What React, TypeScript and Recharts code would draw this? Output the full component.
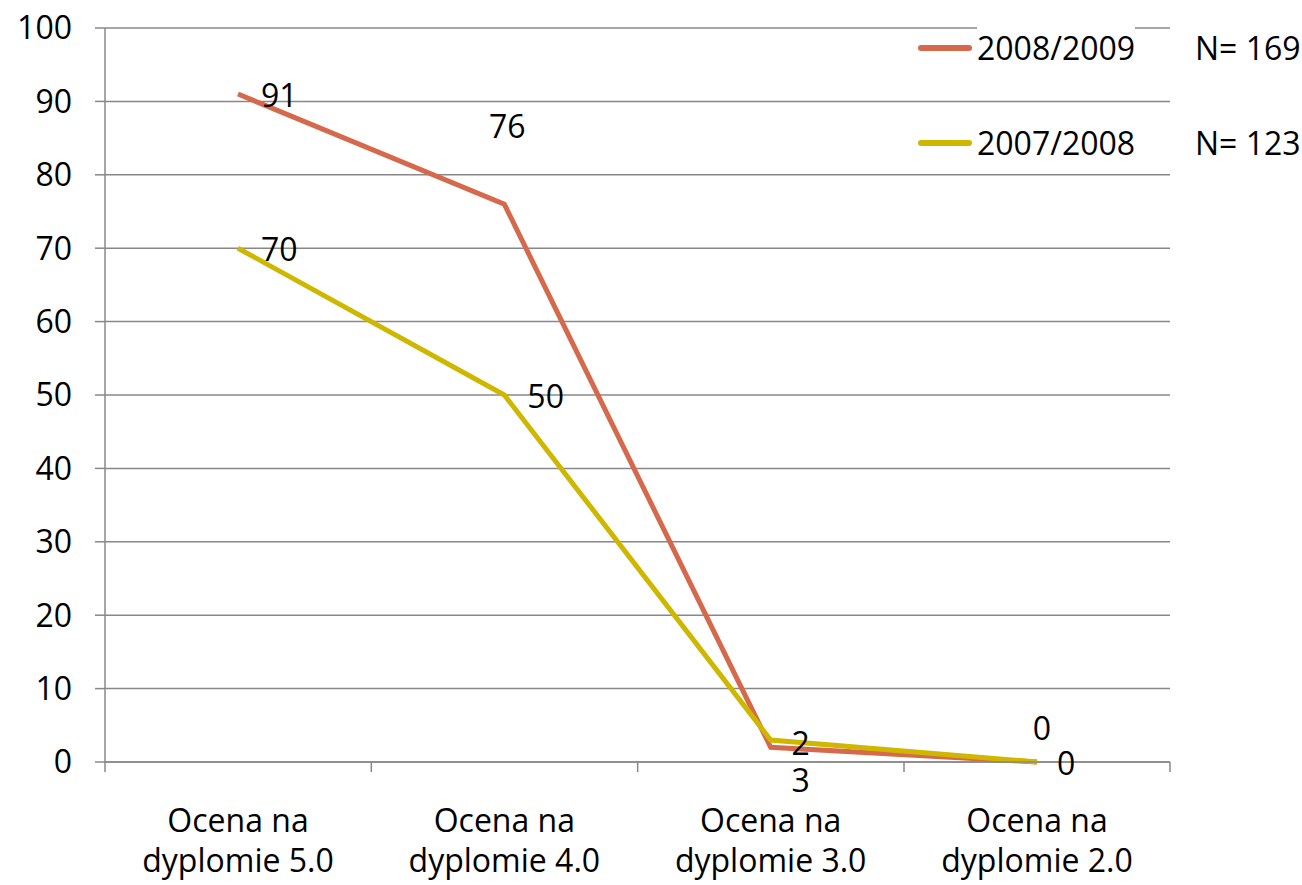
import { CartesianGrid, LabelList, Line, LineChart, XAxis, YAxis } from 'recharts';

const categories = ['Ocena na\ndyplomie 5.0', 'Ocena na\ndyplomie 4.0', 'Ocena na\ndyplomie 3.0', 'Ocena na\ndyplomie 2.0'];
const seriesNames = ['2008/2009', '2007/2008'];
const sampleSizes = ['N= 169', 'N= 123'];
const values2009 = [91, 76, 2, 0];
const values2008 = [70, 50, 3, 0];
const yTicks = [0, 10, 20, 30, 40, 50, 60, 70, 80, 90, 100];

const data = categories.map((name, i) => ({
  name,
  s2009: values2009[i],
  s2008: values2008[i],
}));

const RED = '#D6684C';
const YELLOW = '#CFB700';
const GRID = '#888888';
const FONT = '"Open Sans", sans-serif';
const FS = 32;
const HALF_BAND = 133;

type Place = { dx: number; dy: number; anchor: 'start' | 'middle' };

// where each data label sits relative to its point (as in the source picture)
const place2009: Place[] = [
  { dx: 23, dy: 0, anchor: 'start' },
  { dx: 3, dy: -79, anchor: 'middle' },
  { dx: 30, dy: -5, anchor: 'middle' },
  { dx: 5, dy: -35, anchor: 'middle' },
];
const place2008: Place[] = [
  { dx: 23, dy: 0, anchor: 'start' },
  { dx: 23, dy: 0, anchor: 'start' },
  { dx: 30, dy: 40, anchor: 'middle' },
  { dx: 20, dy: 0, anchor: 'start' },
];

const makeLabel = (places: Place[]) => (props: any) => {
  const { x, y, value, index } = props;
  const p = places[index] ?? { dx: 20, dy: 0, anchor: 'start' };
  return (
    <text
      x={Number(x) + p.dx}
      y={Number(y) + p.dy}
      textAnchor={p.anchor}
      dominantBaseline="central"
      fontSize={FS}
      fontFamily={FONT}
      fill="#000"
    >
      {value}
    </text>
  );
};

// category label plus the tick marks that sit between categories
const CategoryTick = (props: any) => {
  const { x, y, payload, index } = props;
  const lines = String(payload.value).split('\n');
  const last = index === categories.length - 1;
  return (
    <g>
      <line x1={x - HALF_BAND} x2={x - HALF_BAND} y1={y} y2={y + 10} stroke={GRID} strokeWidth={1.5} />
      {last && <line x1={x + HALF_BAND} x2={x + HALF_BAND} y1={y} y2={y + 10} stroke={GRID} strokeWidth={1.5} />}
      <text x={x} y={y} textAnchor="middle" fontSize={FS} fontFamily={FONT} fill="#000">
        {lines.map((line, i) => (
          <tspan key={line} x={x} dy={i === 0 ? 70 : 40}>
            {line}
          </tspan>
        ))}
      </text>
    </g>
  );
};

export default function App() {
  const colors = [RED, YELLOW];
  const legendRows = [48, 143];
  return (
    <div style={{ position: 'absolute', top: 0, left: 0, width: 1302, height: 885, background: '#fff' }}>
      <LineChart
        width={1302}
        height={885}
        data={data}
        margin={{ top: 28, right: 132, bottom: 0, left: 0 }}
        style={{ fontFamily: FONT }}
      >
        <CartesianGrid vertical={false} stroke={GRID} strokeWidth={1.5} />
        <XAxis
          dataKey="name"
          height={123}
          padding={{ left: HALF_BAND, right: HALF_BAND }}
          tickLine={false}
          axisLine={{ stroke: GRID, strokeWidth: 1.5 }}
          tickSize={0}
          tickMargin={0}
          interval={0}
          tick={<CategoryTick />}
        />
        <YAxis
          domain={[0, 100]}
          ticks={yTicks}
          width={105}
          tickSize={10}
          tickMargin={23}
          tickLine={{ stroke: GRID, strokeWidth: 1.5 }}
          axisLine={{ stroke: GRID, strokeWidth: 1.5 }}
          tick={{ fill: '#000', fontSize: FS, fontFamily: FONT }}
        />
        <Line
          type="linear"
          dataKey="s2009"
          name={seriesNames[0]}
          stroke={RED}
          strokeWidth={5}
          dot={false}
          isAnimationActive={false}
        >
          <LabelList dataKey="s2009" content={makeLabel(place2009)} />
        </Line>
        <Line
          type="linear"
          dataKey="s2008"
          name={seriesNames[1]}
          stroke={YELLOW}
          strokeWidth={5}
          dot={false}
          isAnimationActive={false}
        >
          <LabelList dataKey="s2008" content={makeLabel(place2008)} />
        </Line>
      </LineChart>
      {seriesNames.map((name, i) => (
        <div key={name}>
          <div
            style={{
              position: 'absolute',
              left: 918,
              top: legendRows[i] - 3,
              width: 54,
              height: 6,
              borderRadius: 3,
              background: colors[i],
            }}
          />
          <div
            style={{
              position: 'absolute',
              left: 977,
              top: legendRows[i] - 22,
              lineHeight: '44px',
              fontSize: FS,
              fontFamily: FONT,
              color: '#000',
              background: '#fff',
              whiteSpace: 'nowrap',
            }}
          >
            {name}
          </div>
          <div
            style={{
              position: 'absolute',
              left: 1195,
              top: legendRows[i] - 22,
              lineHeight: '44px',
              fontSize: FS,
              fontFamily: FONT,
              color: '#000',
              whiteSpace: 'nowrap',
            }}
          >
            {sampleSizes[i]}
          </div>
        </div>
      ))}
    </div>
  );
}
